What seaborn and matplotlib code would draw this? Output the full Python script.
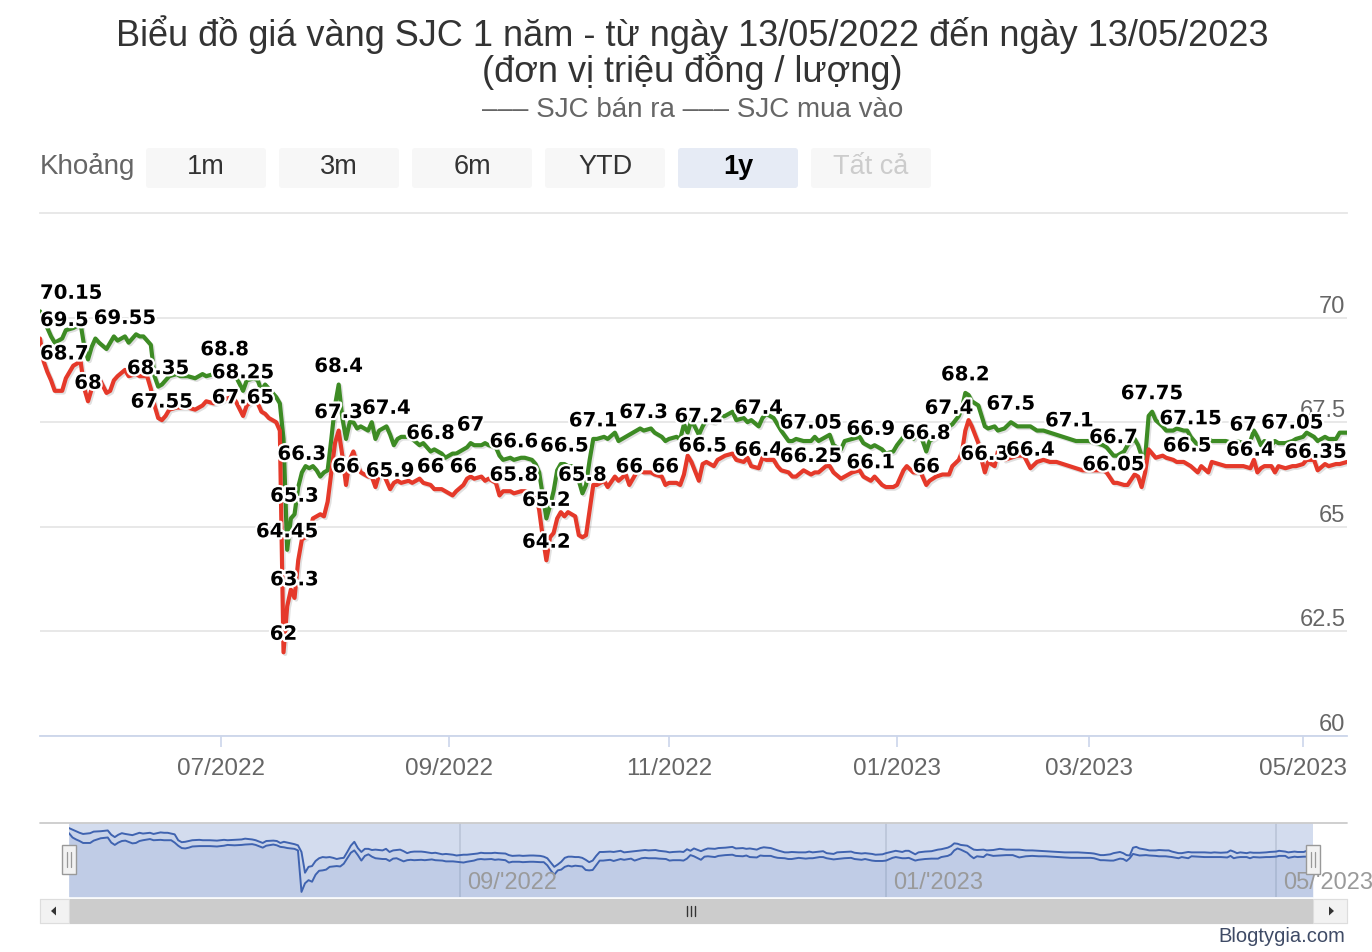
import numpy as np
import pandas as pd
import matplotlib
matplotlib.use("Agg")
import matplotlib.pyplot as plt
import matplotlib.dates as mdates
import matplotlib.patheffects as pe
from matplotlib.patches import FancyBboxPatch, Rectangle, Polygon
from matplotlib.ticker import FuncFormatter
import seaborn as sns

# ---------------- data ----------------
dates = (
    ["2022-05-%02d" % d for d in [13, 14, 15, 16, 17, 19, 20, 22, 23, 24, 25, 26, 27, 28, 29, 31]]
    + ["2022-06-%02d" % d for d in [1, 2, 3, 5, 6, 8, 9, 10, 11, 12, 13, 14, 15, 16, 17, 19, 20, 22, 24, 26, 27, 29]]
    + ["2022-07-%02d" % d for d in [1, 2, 4, 5, 7, 8, 10, 11, 12, 13, 14, 16, 17, 18, 19, 20, 21, 22, 23, 24, 25, 26, 27, 28, 29, 30, 31]]
    + ["2022-08-%02d" % d for d in [1, 2, 3, 4, 5, 6, 7, 8, 10, 11, 12, 13, 14, 15, 16, 17, 18, 19, 21, 22, 24, 25, 27, 28, 30, 31]]
    + ["2022-09-%02d" % d for d in [2, 3, 5, 6, 7, 8, 10, 11, 12, 14, 15, 16, 18, 19, 21, 22, 24, 25, 26, 27, 28, 29, 30]]
    + ["2022-10-%02d" % d for d in [1, 2, 3, 4, 5, 6, 7, 8, 9, 10, 11, 12, 14, 15, 17, 18, 20, 21, 23, 24, 25, 27, 28, 30, 31]]
    + ["2022-11-%02d" % d for d in [1, 3, 4, 5, 6, 7, 9, 10, 11, 13, 14, 16, 18, 19, 21, 22, 23, 25, 26, 27, 29, 30]]
    + ["2022-12-%02d" % d for d in [1, 3, 4, 5, 7, 9, 10, 11, 13, 14, 15, 17, 18, 20, 22, 23, 25, 26, 28, 29, 31]]
    + ["2023-01-%02d" % d for d in [1, 3, 4, 6, 7, 8, 10, 11, 13, 15, 17, 18, 20, 21, 22, 23, 24, 25, 26, 27, 28, 29, 31]]
    + ["2023-02-%02d" % d for d in [1, 3, 5, 7, 9, 11, 13, 15, 17, 19, 21, 23, 25, 27]]
    + ["2023-03-%02d" % d for d in [1, 3, 5, 6, 8, 9, 11, 12, 14, 15, 16, 17, 18, 19, 20, 22, 23, 25, 26, 28, 29, 30]]
    + ["2023-04-%02d" % d for d in [1, 2, 4, 5, 7, 9, 11, 12, 14, 16, 17, 18, 19, 20, 22, 23, 24, 26, 28, 29]]
    + ["2023-05-%02d" % d for d in [1, 2, 4, 5, 7, 8, 10, 11, 13]]
)

sjc_ban_ra = [
    # May 2022
    70.15, 69.95, 69.75, 69.55, 69.4, 69.5, 69.7, 69.75, 69.8, 69.85, 69.3, 69.0, 69.3, 69.5, 69.4, 69.25,
    # Jun
    69.4, 69.55, 69.45, 69.55, 69.4, 69.6, 69.55, 69.55, 69.45, 69.35, 68.6, 68.35, 68.4, 68.5, 68.6, 68.65,
    68.6, 68.6, 68.55, 68.65, 68.6, 68.65,
    # Jul
    68.7, 68.8, 68.7, 68.6, 68.25, 68.5, 68.55, 68.5, 68.25, 68.4, 68.3, 68.1, 67.95, 67.1, 64.45, 65.2,
    65.3, 65.95, 66.3, 66.45, 66.4, 66.45, 66.35, 66.2, 66.3, 66.35, 67.1,
    # Aug
    67.9, 68.4, 67.6, 67.1, 67.5, 67.5, 67.35, 67.4, 67.3, 67.5, 67.1, 67.3, 67.35, 67.4, 67.2, 66.95,
    67.1, 67.15, 67.15, 67.1, 66.95, 67.0, 66.8, 66.85, 66.75, 66.65,
    # Sep
    66.75, 66.75, 66.85, 66.9, 67.0, 66.95, 66.95, 67.0, 66.95, 66.9, 66.7, 66.6, 66.65, 66.6, 66.65, 66.65,
    66.6, 66.5, 66.3, 65.75, 65.2, 65.5, 65.85,
    # Oct
    66.35, 66.5, 66.5, 66.45, 66.45, 66.35, 66.1, 65.8, 66.0, 66.6, 67.1, 67.1, 67.15, 67.1, 67.25, 67.05,
    67.15, 67.2, 67.3, 67.35, 67.3, 67.35, 67.25, 67.15, 67.05,
    # Nov
    67.1, 67.15, 67.1, 67.45, 67.25, 67.55, 67.2, 67.4, 67.55, 67.5, 67.6, 67.65, 67.75, 67.55, 67.6, 67.5,
    67.55, 67.4, 67.6, 67.7, 67.6, 67.45,
    # Dec
    67.3, 67.05, 67.05, 67.1, 67.05, 67.05, 67.15, 67.05, 67.15, 67.2, 66.95, 66.85, 67.05, 67.1, 67.15, 67.0,
    66.9, 66.95, 66.85, 66.75, 66.8,
    # Jan 2023
    66.95, 67.15, 67.25, 67.1, 67.25, 67.25, 66.8, 67.05, 67.15, 67.2, 67.4, 67.45, 67.65, 67.85, 68.2, 68.15,
    68.0, 67.95, 67.9, 67.65, 67.4, 67.35, 67.4,
    # Feb
    67.3, 67.35, 67.5, 67.4, 67.4, 67.4, 67.3, 67.3, 67.25, 67.2, 67.15, 67.1, 67.05, 67.05,
    # Mar
    67.05, 67.0, 66.95, 66.9, 66.7, 66.7, 66.8, 66.95, 67.1, 66.95, 66.7, 66.65, 67.65, 67.75, 67.55, 67.4,
    67.3, 67.3, 67.35, 67.3, 67.3, 67.15,
    # Apr
    66.95, 66.95, 67.1, 67.05, 67.05, 67.05, 67.0, 67.05, 67.0, 67.05, 67.3, 67.15, 66.95, 67.05, 66.95, 67.05,
    67.0, 67.0, 67.05, 67.1,
    # May
    67.15, 67.25, 67.15, 67.05, 67.15, 67.1, 67.1, 67.25, 67.25,
]

sjc_mua_vao = [
    # May 2022
    69.5, 68.95, 68.7, 68.5, 68.25, 68.25, 68.55, 68.85, 68.9, 68.95, 68.3, 68.0, 68.3, 68.5, 68.55, 68.2,
    # Jun
    68.25, 68.5, 68.6, 68.75, 68.6, 68.65, 68.6, 68.6, 68.6, 68.3, 67.9, 67.6, 67.55, 67.65, 67.8, 67.85,
    67.85, 67.85, 67.8, 67.9, 68.0, 67.95,
    # Jul
    68.0, 68.05, 68.1, 68.0, 67.65, 67.9, 68.05, 67.95, 67.75, 67.7, 67.6, 67.5, 67.3, 62.0, 63.1, 63.5,
    63.3, 64.2, 64.7, 64.75, 64.85, 65.2, 65.25, 65.3, 65.25, 65.6, 66.3,
    # Aug
    67.0, 67.3, 66.7, 66.0, 66.6, 66.8, 66.5, 66.3, 66.2, 66.2, 65.95, 66.25, 66.3, 66.1, 65.9, 66.05,
    66.1, 66.05, 66.1, 66.05, 66.15, 66.05, 66.0, 65.9, 65.9, 65.85,
    # Sep
    65.75, 65.85, 66.0, 66.15, 66.2, 66.15, 66.2, 66.1, 66.15, 66.05, 65.75, 65.85, 65.85, 65.8, 65.85, 65.85,
    65.8, 65.8, 65.4, 64.75, 64.2, 64.75, 64.85,
    # Oct
    65.2, 65.35, 65.25, 65.35, 65.3, 65.25, 64.8, 64.75, 64.8, 65.4, 66.0, 66.0, 66.1, 65.95, 66.2, 66.1,
    66.25, 66.0, 66.3, 66.35, 66.3, 66.3, 66.25, 66.2, 66.0,
    # Nov
    66.05, 66.05, 66.0, 66.25, 66.7, 66.55, 66.1, 66.5, 66.55, 66.45, 66.6, 66.7, 66.75, 66.6, 66.55, 66.65,
    66.45, 66.4, 66.65, 66.6, 66.6, 66.45,
    # Dec
    66.35, 66.3, 66.2, 66.2, 66.35, 66.25, 66.3, 66.3, 66.45, 66.45, 66.3, 66.15, 66.2, 66.3, 66.35, 66.2,
    66.1, 66.2, 66.0, 65.95, 65.95,
    # Jan 2023
    66.0, 66.35, 66.45, 66.3, 66.3, 66.35, 66.0, 66.1, 66.2, 66.25, 66.25, 66.45, 66.6, 66.8, 67.3, 67.55,
    67.4, 67.2, 67.0, 66.6, 66.3, 66.55, 66.45,
    # Feb
    66.8, 66.6, 66.65, 66.7, 66.7, 66.4, 66.55, 66.6, 66.55, 66.55, 66.5, 66.45, 66.4, 66.35,
    # Mar
    66.35, 66.35, 66.35, 66.3, 66.05, 66.05, 66.0, 66.0, 66.25, 66.2, 65.95, 66.3, 66.85, 66.75, 66.65, 66.7,
    66.65, 66.6, 66.55, 66.55, 66.5, 66.45,
    # Apr
    66.3, 66.45, 66.3, 66.55, 66.5, 66.45, 66.45, 66.45, 66.45, 66.4, 66.6, 66.3, 66.4, 66.45, 66.45, 66.3,
    66.45, 66.4, 66.45, 66.45,
    # May
    66.5, 66.6, 66.6, 66.35, 66.5, 66.45, 66.5, 66.5, 66.55,
]

series_names = ["SJC bán ra", "SJC mua vào"]
series_colors = ["#3d8b24", "#e5392a"]

# points that carry a value label in the chart
label_dates_ban_ra = [
    "2022-05-13", "2022-06-05", "2022-06-14", "2022-07-02", "2022-07-07", "2022-07-19", "2022-07-21",
    "2022-07-23", "2022-08-02", "2022-08-15", "2022-08-27", "2022-09-07", "2022-09-19", "2022-09-28",
    "2022-10-03", "2022-10-08", "2022-10-11", "2022-10-25", "2022-11-09", "2022-11-25", "2022-12-09",
    "2022-12-25", "2023-01-10", "2023-01-17", "2023-01-22", "2023-02-05", "2023-02-23", "2023-03-08",
    "2023-03-19", "2023-03-30", "2023-04-14", "2023-04-28",
]
label_dates_mua_vao = [
    "2022-05-13", "2022-05-15", "2022-05-26", "2022-06-15", "2022-07-07", "2022-07-18", "2022-07-21",
    "2022-08-02", "2022-08-04", "2022-08-16", "2022-08-27", "2022-09-05", "2022-09-19", "2022-09-28",
    "2022-10-21", "2022-10-31", "2022-11-10", "2022-11-25", "2022-12-09", "2022-12-25", "2023-01-10",
    "2023-01-28", "2023-02-11", "2023-03-08", "2023-03-29", "2023-04-16", "2023-05-05",
]

title_1 = "Biểu đồ giá vàng SJC 1 năm - từ ngày 13/05/2022 đến ngày 13/05/2023"
title_2 = "(đơn vị triệu đồng / lượng)"
legend_text = "––– SJC bán ra ––– SJC mua vào"
range_label = "Khoảng"
range_buttons = ["1m", "3m", "6m", "YTD", "1y", "Tất cả"]
y_ticks = [60, 62.5, 65, 67.5, 70]
credit_text = "Blogtygia.com"

assert len(dates) == len(sjc_ban_ra) == len(sjc_mua_vao)

df = pd.DataFrame({"date": pd.to_datetime(dates),
                   series_names[0]: sjc_ban_ra,
                   series_names[1]: sjc_mua_vao})
long_df = df.melt("date", var_name="series", value_name="price")

# ---------------- layout: Highstock-like ordinal time axis (piecewise scale) ----------------
main_scale_dates = ["2022-05-13", "2022-07-01", "2022-09-01", "2022-11-01",
                    "2023-01-01", "2023-03-01", "2023-05-01", "2023-05-13"]
main_scale_pos = [40, 221, 449, 669, 897, 1089, 1303, 1347]
nav_scale_dates = ["2022-05-13", "2022-09-01", "2023-01-01", "2023-05-01", "2023-05-13"]
nav_scale_pos = [69, 460, 886, 1276, 1313]


def make_scale(sdates, spos):
    xn = mdates.date2num(pd.to_datetime(sdates))
    sp = np.asarray(spos, dtype=float)

    def fwd(x):
        x = np.asarray(x, dtype=float)
        lo_slope = (sp[1] - sp[0]) / (xn[1] - xn[0])
        hi_slope = (sp[-1] - sp[-2]) / (xn[-1] - xn[-2])
        y = np.interp(x, xn, sp)
        y = np.where(x < xn[0], sp[0] + (x - xn[0]) * lo_slope, y)
        y = np.where(x > xn[-1], sp[-1] + (x - xn[-1]) * hi_slope, y)
        return y

    def inv(y):
        y = np.asarray(y, dtype=float)
        lo_slope = (xn[1] - xn[0]) / (sp[1] - sp[0])
        hi_slope = (xn[-1] - xn[-2]) / (sp[-1] - sp[-2])
        x = np.interp(y, sp, xn)
        x = np.where(y < sp[0], xn[0] + (y - sp[0]) * lo_slope, x)
        x = np.where(y > sp[-1], xn[-1] + (y - sp[-1]) * hi_slope, x)
        return x

    return fwd, inv


# ---------------- style ----------------
sns.set_theme(style="white")
plt.rcParams["font.family"] = ["Liberation Sans", "DejaVu Sans"]

W, H = 1372, 952
fig = plt.figure(figsize=(W / 100, H / 100), dpi=100)
fig.patch.set_facecolor("white")

ax = fig.add_axes([40 / W, 1 - 736 / H, 1307 / W, 523 / H])
nav = fig.add_axes([69 / W, 1 - 897 / H, 1244 / W, 74 / H])
ov = fig.add_axes([0, 0, 1, 1], zorder=5)
ov.set_xlim(0, W)
ov.set_ylim(H, 0)
ov.axis("off")
ov.patch.set_visible(False)

# ---------------- main chart ----------------
palette = dict(zip(series_names, series_colors))
sns.lineplot(data=long_df, x="date", y="price", hue="series", hue_order=series_names,
             palette=palette, estimator=None, linewidth=3.0, legend=False, ax=ax)
for ln in ax.lines:
    ln.set_path_effects([pe.SimpleLineShadow(offset=(1.2, -1.2), shadow_color="black", alpha=0.12),
                         pe.Normal()])
    ln.set_solid_joinstyle("round")

ax.set_xscale("function", functions=make_scale(main_scale_dates, main_scale_pos))
ax.set_xlim(df["date"].iloc[0], df["date"].iloc[-1])
ax.set_ylim(60, 72.5)
ax.set_xlabel("")
ax.set_ylabel("")
ax.set_facecolor("white")
for s in ["left", "right"]:
    ax.spines[s].set_visible(False)
ax.spines["top"].set_color("#e6e6e6")
ax.spines["top"].set_linewidth(1.3)
ax.spines["bottom"].set_color("#ccd6eb")
ax.spines["bottom"].set_linewidth(1.3)

ax.set_yticks(y_ticks)
ax.yaxis.set_major_formatter(FuncFormatter(lambda v, p: f"{v:g}"))
ax.grid(axis="y", color="#e6e6e6", linewidth=1.3)
ax.grid(axis="x", visible=False)
ax.set_axisbelow(True)
ax.yaxis.tick_right()
ax.tick_params(axis="y", length=0, pad=-1, labelsize=17, labelcolor="#666666",
               labelright=True, labelleft=False)
for t in ax.yaxis.get_major_ticks():
    t.label2.set_horizontalalignment("right")
    t.label2.set_verticalalignment("bottom")

ax.xaxis.set_major_locator(mdates.MonthLocator(bymonth=[1, 3, 5, 7, 9, 11]))
ax.xaxis.set_major_formatter(mdates.DateFormatter("%m/%Y"))
ax.xaxis.set_minor_locator(matplotlib.ticker.NullLocator())
ax.tick_params(axis="x", which="major", length=8, width=1.2, color="#ccd6eb", labelsize=17.5,
               labelcolor="#666666", pad=8, bottom=True)

# value labels
dl_style = dict(textcoords="offset points", ha="center", va="center", fontsize=14.2,
                fontweight="bold", family="DejaVu Sans", color="black", zorder=6,
                annotation_clip=False,
                path_effects=[pe.withStroke(linewidth=3.2, foreground="white")])
indexed = df.set_index("date")
anns = []
for name, ldates in [(series_names[0], label_dates_ban_ra), (series_names[1], label_dates_mua_vao)]:
    for d in ldates:
        ts = pd.Timestamp(d)
        v = indexed.loc[ts, name]
        a = ax.annotate(f"{v:g}", xy=(mdates.date2num(ts), v), xytext=(0, 13), **dl_style)
        anns.append(a)

# ---------------- navigator ----------------
nav_palette = dict(zip(series_names, ["#3f63b0", "#3f63b0"]))
sns.lineplot(data=long_df, x="date", y="price", hue="series", hue_order=series_names,
             palette=nav_palette, estimator=None, linewidth=1.4, legend=False, ax=nav)
nav.set_xscale("function", functions=make_scale(nav_scale_dates, nav_scale_pos))
nav_ylim = (61.35, 70.8)
nav.set_ylim(*nav_ylim)
nav.set_xlim(df["date"].iloc[0], df["date"].iloc[-1])
for name in series_names:
    nav.fill_between(df["date"], df[name], nav_ylim[0], color="#335cad", alpha=0.06, lw=0)
nav.set_facecolor("#d3dcee")
for s in nav.spines.values():
    s.set_visible(False)
nav.xaxis.set_major_locator(matplotlib.ticker.NullLocator())
nav.xaxis.set_minor_locator(matplotlib.ticker.NullLocator())
nav.set_yticks([])
nav.set_xlabel("")
nav.set_ylabel("")
for d in pd.date_range("2022-09-01", "2023-05-01", freq="4MS"):
    nav.axvline(d, color="#bcc6da", linewidth=1.3, zorder=0.5)
    nav.annotate(d.strftime("%m/'%Y"), xy=(mdates.date2num(d), 0.19),
                 xycoords=("data", "axes fraction"), xytext=(5, 0), textcoords="offset points",
                 ha="left", va="center", fontsize=17, color="#9a9a9a", annotation_clip=False)

# ---------------- titles, range selector, chrome ----------------
ov.text(692.5, 35, title_1, ha="center", va="center", fontsize=26, color="#333333")
ov.text(692.5, 71, title_2, ha="center", va="center", fontsize=26, color="#333333")
ov.text(692.5, 110, legend_text, ha="center", va="center", fontsize=20, color="#666666")

ov.text(40, 167, range_label, ha="left", va="center", fontsize=20, color="#666666")
for i, lab in enumerate(range_buttons):
    x0 = 146 + i * 133
    selected = lab == "1y"
    disabled = lab == "Tất cả"
    fc = "#e6ebf5" if selected else "#f7f7f7"
    ov.add_patch(FancyBboxPatch((x0, 148), 120, 40, boxstyle="round,pad=0,rounding_size=3",
                                fc=fc, ec="none"))
    ov.text(x0 + 60, 167, lab, ha="center", va="center", fontsize=19.5,
            color="#cccccc" if disabled else ("#000000" if selected else "#333333"),
            fontweight="bold" if selected else "normal")

# navigator outline
ov.plot([40, 1347], [823, 823], color="#cccccc", lw=1.3)
# handles
for hx in [62, 1306]:
    ov.add_patch(Rectangle((hx, 845), 14, 29, fc="#f2f2f2", ec="#999999", lw=1.0))
    for lx in [hx + 5, hx + 9]:
        ov.plot([lx, lx], [852, 867], color="#999999", lw=0.9)

# scrollbar
ov.add_patch(Rectangle((40, 899), 1307, 24, fc="#f2f2f2", ec="#dddddd", lw=0.8))
ov.add_patch(Rectangle((69, 899), 1244, 24, fc="#cccccc", ec="#cccccc", lw=0.8))
ov.add_patch(Rectangle((40, 899), 29, 24, fc="#f2f2f2", ec="#dddddd", lw=0.8))
ov.add_patch(Rectangle((1313, 899), 34, 24, fc="#f2f2f2", ec="#dddddd", lw=0.8))
ov.add_patch(Polygon([[51, 911], [56, 906.5], [56, 915.5]], closed=True, fc="#333333", ec="none"))
ov.add_patch(Polygon([[1334, 911], [1329, 906.5], [1329, 915.5]], closed=True, fc="#333333", ec="none"))
for rx in [686.5, 690.5, 694.5]:
    ov.plot([rx, rx], [906, 916], color="#333333", lw=1.0)

ov.text(1345, 937, credit_text, ha="right", va="center", fontsize=14.5, color="#3f4b66")

# ---------------- keep value labels inside the plot (like Highcharts) ----------------
fig.canvas.draw()
renderer = fig.canvas.get_renderer()
axbb = ax.get_window_extent(renderer)
for a in anns:
    bb = a.get_window_extent(renderer)
    dx = 0.0
    if bb.x0 < axbb.x0:
        dx = axbb.x0 - bb.x0
    elif bb.x1 > axbb.x1:
        dx = axbb.x1 - bb.x1
    if dx:
        a.xyann = (dx * 72 / fig.dpi, 13)

fig.savefig("out.png", dpi=100, facecolor="white")
